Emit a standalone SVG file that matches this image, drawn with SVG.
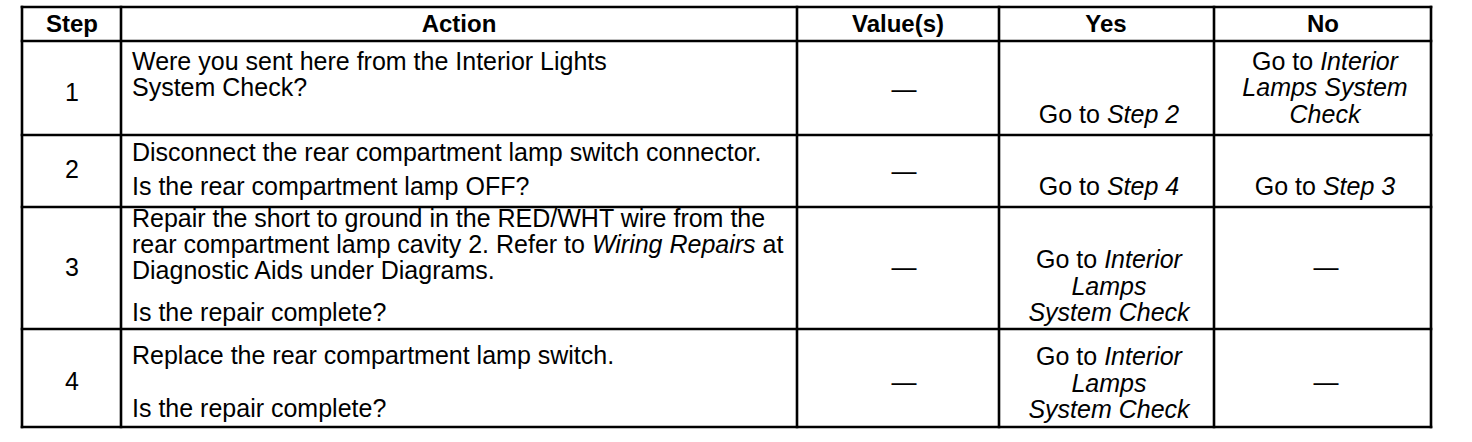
<svg xmlns="http://www.w3.org/2000/svg" width="1472" height="442" viewBox="0 0 1472 442">
<style>
.t{font-family:"Liberation Sans",Arial,Helvetica,sans-serif;font-size:25px;fill:#000}
.h{font-weight:bold;font-size:24px}
.c{text-anchor:middle}
.i{font-style:italic}
.g line{stroke:#000;stroke-width:2.6;stroke-linecap:square}
</style>
<rect x="0" y="0" width="1472" height="442" fill="#fff"/>
<g id="grid" class="g">
<line x1="22" y1="7" x2="1431" y2="7"/>
<line x1="22" y1="41" x2="1431" y2="41"/>
<line x1="22" y1="135" x2="1431" y2="135"/>
<line x1="22" y1="207" x2="1431" y2="207"/>
<line x1="22" y1="329" x2="1431" y2="329"/>
<line x1="22" y1="427" x2="1431" y2="427"/>
<line x1="22" y1="7" x2="22" y2="427"/>
<line x1="121" y1="7" x2="121" y2="427"/>
<line x1="797" y1="7" x2="797" y2="427"/>
<line x1="999" y1="7" x2="999" y2="427"/>
<line x1="1214" y1="7" x2="1214" y2="427"/>
<line x1="1431" y1="7" x2="1431" y2="427"/>
</g>
<g id="header" class="t h c">
<text x="72" y="32">Step</text>
<text x="459" y="32">Action</text>
<text x="898" y="32">Value(s)</text>
<text x="1106" y="32">Yes</text>
<text x="1323" y="32">No</text>
</g>
<g id="row1" class="t">
<text class="c" x="72" y="101">1</text>
<text x="132" y="70">Were you sent here from the Interior Lights</text>
<text x="132" y="96">System Check?</text>
<text class="c" x="904" y="98">—</text>
<text class="c" x="1109" y="123">Go to <tspan class="i">Step 2</tspan></text>
<text class="c" x="1325" y="70">Go to <tspan class="i">Interior</tspan></text>
<text class="c i" x="1325" y="96">Lamps System</text>
<text class="c i" x="1325" y="123">Check</text>
</g>
<g id="row2" class="t">
<text class="c" x="72" y="178">2</text>
<text x="132" y="161">Disconnect the rear compartment lamp switch connector.</text>
<text x="132" y="195">Is the rear compartment lamp OFF?</text>
<text class="c" x="904" y="180">—</text>
<text class="c" x="1109" y="195">Go to <tspan class="i">Step 4</tspan></text>
<text class="c" x="1325" y="195">Go to <tspan class="i">Step 3</tspan></text>
</g>
<g id="row3" class="t">
<text class="c" x="72" y="276">3</text>
<text x="132" y="227">Repair the short to ground in the RED/WHT wire from the</text>
<text x="132" y="253">rear compartment lamp cavity 2. Refer to <tspan class="i">Wiring Repairs</tspan> at</text>
<text x="132" y="279">Diagnostic Aids under Diagrams.</text>
<text x="132" y="321">Is the repair complete?</text>
<text class="c" x="904" y="276">—</text>
<text class="c" x="1109" y="268">Go to <tspan class="i">Interior</tspan></text>
<text class="c i" x="1109" y="295">Lamps</text>
<text class="c i" x="1109" y="321">System Check</text>
<text class="c" x="1326" y="276">—</text>
</g>
<g id="row4" class="t">
<text class="c" x="72" y="390">4</text>
<text x="132" y="364">Replace the rear compartment lamp switch.</text>
<text x="132" y="417">Is the repair complete?</text>
<text class="c" x="904" y="391">—</text>
<text class="c" x="1109" y="365">Go to <tspan class="i">Interior</tspan></text>
<text class="c i" x="1109" y="392">Lamps</text>
<text class="c i" x="1109" y="418">System Check</text>
<text class="c" x="1326" y="391">—</text>
</g>
</svg>
